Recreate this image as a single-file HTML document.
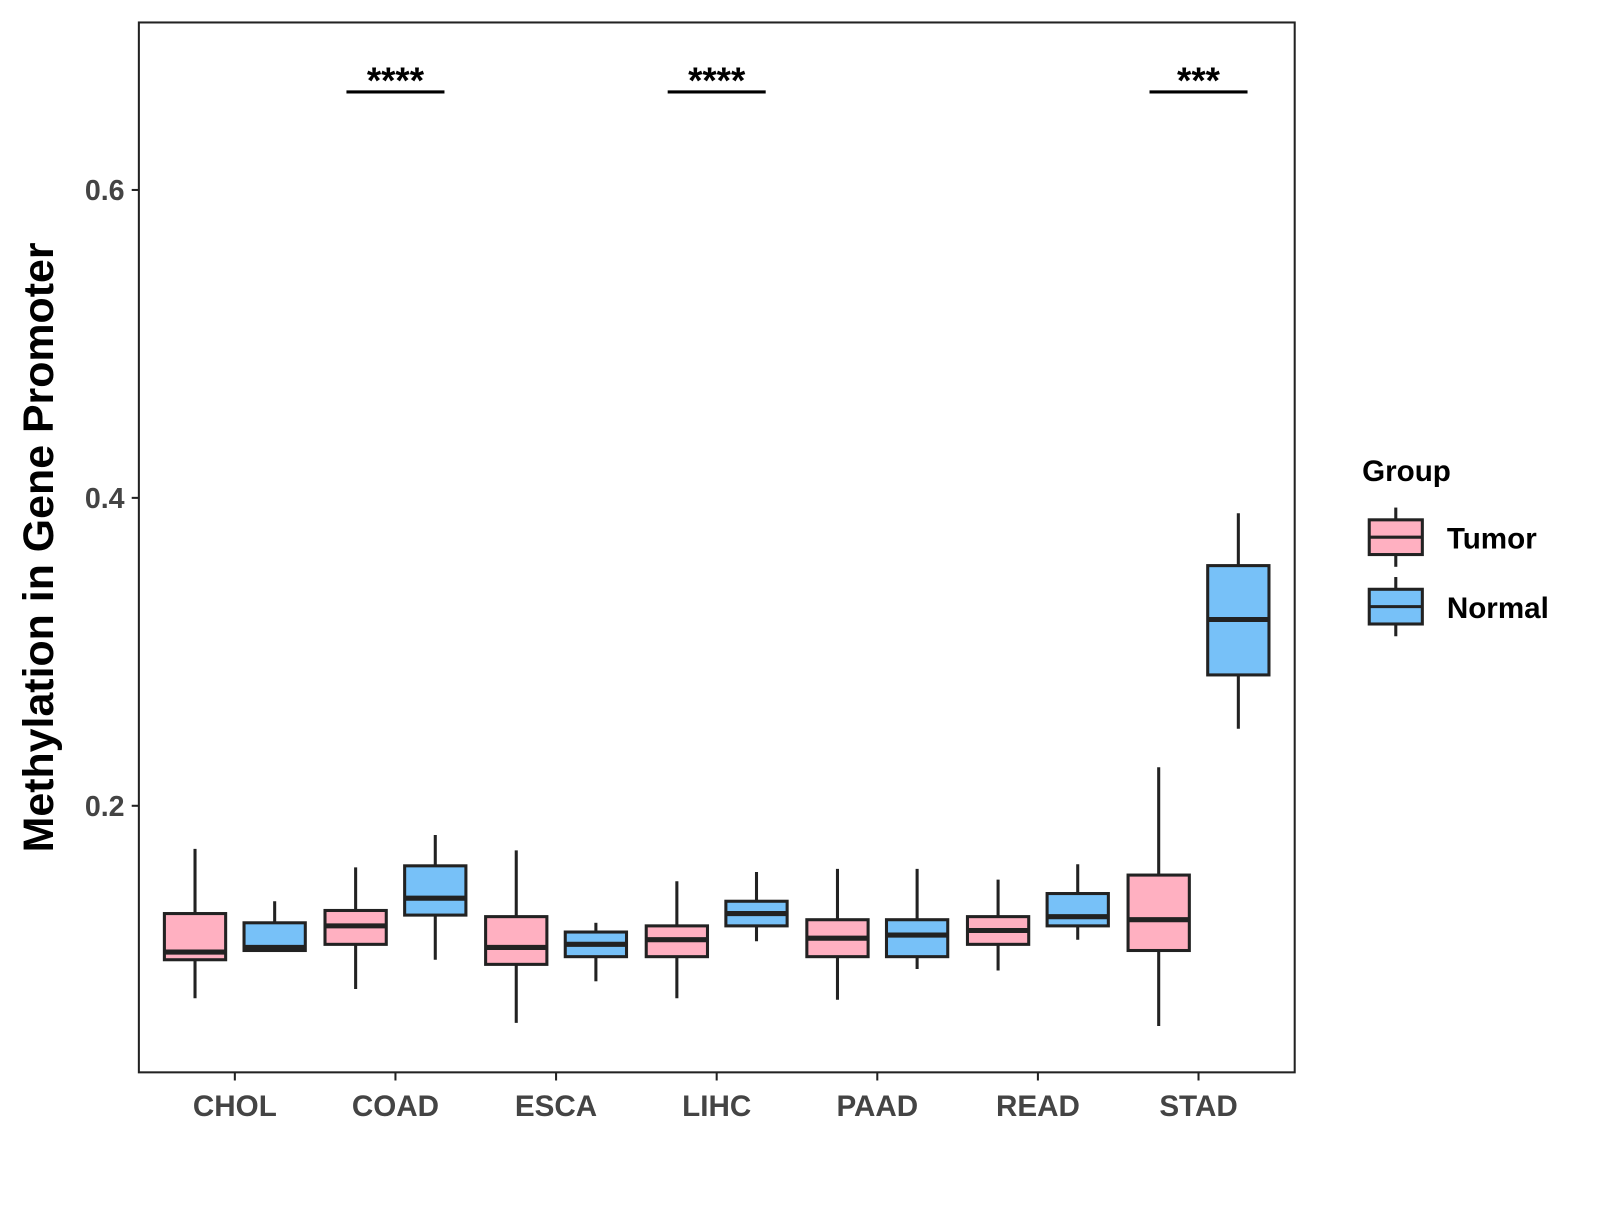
<!DOCTYPE html>
<html><head><meta charset="utf-8"><style>
body{margin:0;background:#fff}
svg text{font-family:"Liberation Sans",Arial,sans-serif;font-weight:bold}
</style></head><body>
<svg id="chart" width="1600" height="1200" viewBox="0 0 1567 1175" preserveAspectRatio="none" xmlns="http://www.w3.org/2000/svg">
<rect x="0" y="0" width="1567" height="1175" fill="#fff"/>
<rect x="136" y="22" width="1132" height="1028" fill="none" stroke="#222" stroke-width="2"/>
<g id="marks"></g>
<text transform="translate(52,536) rotate(-90)" text-anchor="middle" font-size="42" fill="#000">Methylation in Gene Promoter</text>
<g>
<text x="1334" y="471" font-size="29" fill="#000">Group</text>
<g>
<line x1="1367" y1="497" x2="1367" y2="555" stroke="#222" stroke-width="3"/>
<rect x="1341" y="509" width="52" height="34" fill="#FFB0C1" stroke="#222" stroke-width="3"/>
<line x1="1341" y1="526" x2="1393" y2="526" stroke="#222" stroke-width="3"/>
<text x="1417" y="537" font-size="29" fill="#000">Tumor</text></g>
<g>
<line x1="1367" y1="565" x2="1367" y2="623" stroke="#222" stroke-width="3"/>
<rect x="1341" y="577" width="52" height="34" fill="#77C1F8" stroke="#222" stroke-width="3"/>
<line x1="1341" y1="594" x2="1393" y2="594" stroke="#222" stroke-width="3"/>
<text x="1417" y="605" font-size="29" fill="#000">Normal</text></g>
</g>
</svg>
<script>
const categories=["CHOL","COAD","ESCA","LIHC","PAAD","READ","STAD"];
// [lower whisker, q1, median, q3, upper whisker]
const tumorStats=[[0.075,0.100,0.105,0.130,0.172],[0.081,0.110,0.122,0.132,0.160],[0.059,0.097,0.108,0.128,0.171],[0.075,0.102,0.113,0.122,0.151],[0.074,0.102,0.114,0.126,0.159],[0.093,0.110,0.119,0.128,0.152],[0.057,0.106,0.126,0.155,0.225]];
const normalStats=[[0.106,0.106,0.108,0.124,0.138],[0.100,0.129,0.140,0.161,0.181],[0.086,0.102,0.110,0.118,0.124],[0.112,0.122,0.130,0.138,0.157],[0.094,0.102,0.116,0.126,0.159],[0.113,0.122,0.128,0.143,0.162],[0.250,0.285,0.321,0.356,0.390]];
const yTicks=[0.2,0.4,0.6];
const sigLabels=["","****","","****","","","***"];
const ns="http://www.w3.org/2000/svg";
const g=document.getElementById("marks");
function yS(v){return 186+(0.6-v)*1507.5;}
function xS(i){return 230+i*157.3;}
function mk(t,a){const e=document.createElementNS(ns,t);for(const k in a)e.setAttribute(k,a[k]);g.appendChild(e);return e;}
yTicks.forEach(t=>{
 const l=mk("line",{x1:129,x2:136,y1:yS(t),y2:yS(t),stroke:"#222","stroke-width":2});
 
 
 const tx=mk("text",{x:122,y:yS(t)+10,"text-anchor":"end","font-size":28,fill:"#444"});
 tx.textContent=t.toFixed(1);
 
 
});
categories.forEach((c,i)=>{
 const l=mk("line",{x1:xS(i),x2:xS(i),y1:1050,y2:1058,stroke:"#222","stroke-width":2});
 
 
 const tx=mk("text",{x:xS(i),y:1093,"text-anchor":"middle","font-size":29,fill:"#444"});
 tx.textContent=c;
 
 
 [[tumorStats[i],-39,"#FFB0C1","tumor"],[normalStats[i],39,"#77C1F8","normal"]].forEach(([s,off,col,nm])=>{
  const cx=xS(i)+off,w=60;
  const grp=document.createElementNS(ns,"g");g.appendChild(grp);
  
  
  const add=(t,a)=>{const e=document.createElementNS(ns,t);for(const k in a)e.setAttribute(k,a[k]);grp.appendChild(e);};
  add("line",{x1:cx,x2:cx,y1:yS(s[0]),y2:yS(s[4]),stroke:"#222","stroke-width":3});
  add("rect",{x:cx-w/2,y:yS(s[3]),width:w,height:Math.max(yS(s[1])-yS(s[3]),1),fill:col,stroke:"#222","stroke-width":3});
  add("line",{x1:cx-w/2,x2:cx+w/2,y1:yS(s[2]),y2:yS(s[2]),stroke:"#222","stroke-width":5});
 });
 if(sigLabels[i]){
  const b=mk("line",{x1:xS(i)-48,x2:xS(i)+48,y1:90,y2:90,stroke:"#000","stroke-width":3});
  
  
  const st=mk("text",{x:xS(i),y:91,"text-anchor":"middle","font-size":36,fill:"#000"});
  st.textContent=sigLabels[i];
  
  
 }
});
</script>
</body></html>
